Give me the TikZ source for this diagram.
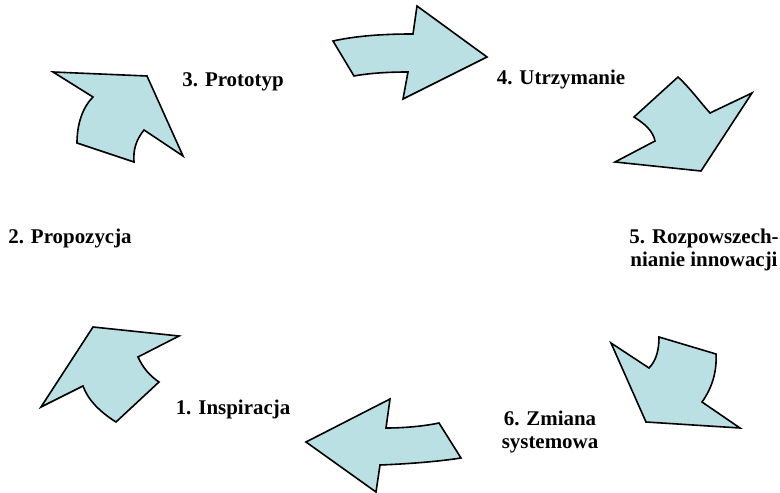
\documentclass[tikz,border=0pt]{standalone}
\usepackage{fontspec}
\setmainfont{Liberation Serif}
\definecolor{arrowfill}{RGB}{186,224,228}
\begin{document}
\begin{tikzpicture}[x=1bp,y=-1bp,
  bigarrow/.style={draw=black, fill=arrowfill, line width=1.6bp, line join=miter},
  lbl/.style={font=\fontsize{21}{23}\selectfont\bfseries, align=center, inner sep=0pt}]
\useasboundingbox (0,0) rectangle (780,493);
% arrow 1 (bottom left)
\draw[bigarrow] (93,327) -- (179,336) -- (138,357) .. controls (143,368) and (150,376) .. (159,382) -- (116,422) .. controls (100,412) and (88,400) .. (83,386) -- (41,407) -- cycle;
% arrow 3 (top left)
\draw[bigarrow] (53,72) -- (147,76) -- (183,156) -- (144,130) .. controls (136,140) and (133,150) .. (134,162) -- (77,143) .. controls (77,125) and (82,108) .. (93,97) -- cycle;
% arrow 4 (top)
\draw[bigarrow] (333,41) .. controls (360,35) and (390,34) .. (413,34) -- (417,6) -- (487,57) -- (403,99) -- (408,72) .. controls (390,72) and (370,73) .. (354,76) -- cycle;
% arrow 5 (top right)
\draw[bigarrow] (678,77) .. controls (690,88) and (700,102) .. (710,113) -- (752,93) -- (701,171) -- (615,162) -- (655,141) .. controls (653,131) and (645,124) .. (634,117) -- cycle;
% arrow 6 (bottom right)
\draw[bigarrow] (611,343) -- (649,368) .. controls (657,360) and (659,348) .. (659,337) -- (716,354) .. controls (717,372) and (712,388) .. (702,402) -- (740,428) -- (646,422) -- cycle;
% arrow 7 (bottom)
\draw[bigarrow] (390,399) -- (386,428) .. controls (405,428) and (425,426) .. (439,423) -- (461,458) .. controls (435,462) and (405,464) .. (380,465) -- (376,492) -- (306,442) -- cycle;
% labels
\node[lbl] (l1) at (233,409) {1. Inspiracja};
\node[lbl] (l2) at (70,238) {2. Propozycja};
\node[lbl] (l3) at (233,82) {3. Prototyp};
\node[lbl] (l4) at (561,80) {4. Utrzymanie};
\node[lbl] (l5) at (704,250) {5. Rozpowszech-\\nianie innowacji};
\node[lbl] (l6) at (550,432) {6. Zmiana\\systemowa};
\end{tikzpicture}
\end{document}
